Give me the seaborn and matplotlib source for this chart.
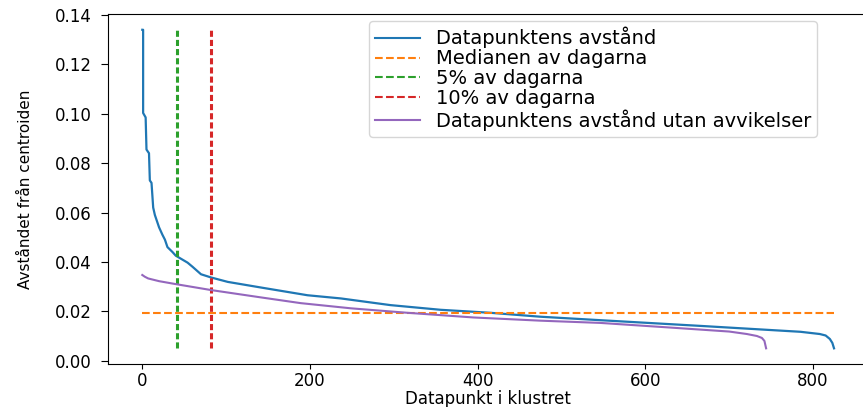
import numpy as np
import pandas as pd
import matplotlib
matplotlib.use("Agg")
import matplotlib.pyplot as plt
from matplotlib.lines import Line2D
import seaborn as sns

# --- data ---
blue_idx = [0, 1, 1, 4, 5, 8, 9, 11, 13, 15, 17, 20, 24, 27, 30, 33, 36, 40, 45, 50, 54, 60, 70,
            82, 102, 142, 197, 237, 296, 356, 415, 475, 546, 665, 785, 808, 815, 820, 823, 825]
blue_val = [0.134, 0.134, 0.1003, 0.0985, 0.0855, 0.084, 0.073, 0.072, 0.062, 0.059, 0.057, 0.054,
            0.051, 0.049, 0.046, 0.045, 0.044, 0.0425, 0.0415, 0.0405, 0.0397, 0.038, 0.035,
            0.0337, 0.0319, 0.0296, 0.0265, 0.0252, 0.0225, 0.0206, 0.0194, 0.0178, 0.0164,
            0.0141, 0.0117, 0.0108, 0.0102, 0.0088, 0.0072, 0.0050]
purple_idx = [0, 3, 7, 20, 40, 82, 142, 189, 249, 316, 395, 475, 546, 626, 700, 721, 733, 739, 742, 744]
purple_val = [0.0347, 0.0340, 0.0333, 0.0322, 0.031, 0.0286, 0.0256, 0.0233, 0.0212, 0.0194,
              0.0175, 0.0162, 0.0153, 0.0135, 0.0118, 0.0108, 0.0100, 0.0092, 0.0080, 0.0050]
median_val = 0.0194
n_points = 826
pct5_x = 41
pct10_x = 82

labels = ["Datapunktens avstånd", "Medianen av dagarna", "5% av dagarna",
          "10% av dagarna", "Datapunktens avstånd utan avvikelser"]
xlabel = "Datapunkt i klustret"
ylabel = "Avståndet från centroiden"

colors = ["#1f77b4", "#ff7f0e", "#2ca02c", "#d62728", "#9467bd"]

fig = plt.figure(figsize=(8.63, 4.07), dpi=100)
ax = fig.add_axes([0.1248, 0.105, 0.8817, 0.861])

df_b = pd.DataFrame({"x": blue_idx, "y": blue_val})
df_p = pd.DataFrame({"x": purple_idx, "y": purple_val})

sns.lineplot(data=df_b, x="x", y="y", ax=ax, color=colors[0], lw=1.6,
             estimator=None, sort=False)
ax.hlines(median_val, 0, n_points - 1, colors=colors[1], linestyles="--", lw=1.5)
ax.vlines(pct5_x, min(blue_val), max(blue_val), colors=colors[2],
          linestyles=(0, (2, 1)), lw=2.2)
ax.vlines(pct10_x, min(blue_val), max(blue_val), colors=colors[3],
          linestyles=(0, (2, 1)), lw=2.2)
sns.lineplot(data=df_p, x="x", y="y", ax=ax, color=colors[4], lw=1.5,
             estimator=None, sort=False)

ax.set_yticks([0.0, 0.02, 0.04, 0.06, 0.08, 0.10, 0.12, 0.14])
ax.set_xticks([0, 200, 400, 600, 800])
ax.tick_params(axis="both", labelsize=12)
ax.tick_params(axis="y", length=5, pad=6.5)
ax.tick_params(axis="x", length=3.5, pad=2)
ax.set_xlabel(xlabel, fontsize=12, labelpad=0)
ax.set_ylabel(ylabel, fontsize=11, labelpad=16)

handles = [Line2D([], [], color=colors[0], lw=1.5),
           Line2D([], [], color=colors[1], lw=1.5, ls="--"),
           Line2D([], [], color=colors[2], lw=1.5, ls="--"),
           Line2D([], [], color=colors[3], lw=1.5, ls="--"),
           Line2D([], [], color=colors[4], lw=1.5)]
ax.legend(handles, labels, loc="upper left", bbox_to_anchor=(0.3434, 0.9795),
          borderaxespad=0, fontsize=14, labelspacing=0.05, handlelength=2.3,
          handletextpad=0.85, borderpad=0.3)

fig.savefig("out.png", dpi=100)
